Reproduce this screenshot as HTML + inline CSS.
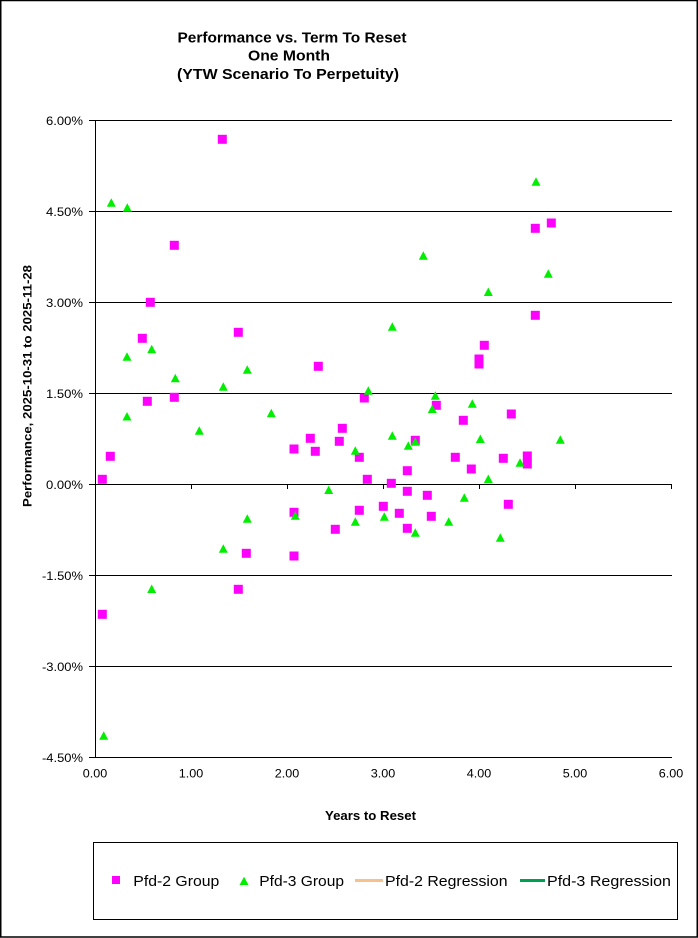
<!DOCTYPE html>
<html>
<head>
<meta charset="utf-8">
<style>
html,body{margin:0;padding:0;background:#fff;}
svg{display:block;}
text{font-family:"Liberation Sans",Arial,sans-serif;fill:#000;}
</style>
</head>
<body>
<svg width="698" height="938" viewBox="0 0 698 938" xmlns="http://www.w3.org/2000/svg">
<rect x="0" y="0" width="698" height="938" fill="#fff"/>
<rect x="0.75" y="0.5" width="696.5" height="936.5" fill="none" stroke="#000" stroke-width="1.5"/>

<text x="292" y="42.5" font-size="15" font-weight="bold" text-anchor="middle" textLength="229" lengthAdjust="spacingAndGlyphs">Performance vs. Term To Reset</text>
<text x="289" y="60.5" font-size="15" font-weight="bold" text-anchor="middle" textLength="82" lengthAdjust="spacingAndGlyphs">One Month</text>
<text x="288" y="79" font-size="15" font-weight="bold" text-anchor="middle" textLength="222" lengthAdjust="spacingAndGlyphs">(YTW Scenario To Perpetuity)</text>

<g stroke="#000" stroke-width="1">
<line x1="89" y1="120.5" x2="672" y2="120.5"/>
<line x1="89" y1="211.5" x2="672" y2="211.5"/>
<line x1="89" y1="302.5" x2="672" y2="302.5"/>
<line x1="89" y1="393.5" x2="672" y2="393.5"/>
<line x1="89" y1="484.5" x2="672" y2="484.5"/>
<line x1="89" y1="575.5" x2="672" y2="575.5"/>
<line x1="89" y1="666.5" x2="672" y2="666.5"/>
<line x1="89" y1="757.5" x2="672" y2="757.5"/>
<line x1="95.5" y1="120" x2="95.5" y2="758"/>
<line x1="95.5" y1="484.5" x2="95.5" y2="489"/>
<line x1="191.5" y1="484.5" x2="191.5" y2="489"/>
<line x1="287.5" y1="484.5" x2="287.5" y2="489"/>
<line x1="383.5" y1="484.5" x2="383.5" y2="489"/>
<line x1="479.5" y1="484.5" x2="479.5" y2="489"/>
<line x1="575.5" y1="484.5" x2="575.5" y2="489"/>
<line x1="671.5" y1="484.5" x2="671.5" y2="489"/>
</g>

<g font-size="12" text-anchor="end">
<text x="83" y="125" textLength="37" lengthAdjust="spacingAndGlyphs">6.00%</text>
<text x="83" y="216" textLength="37" lengthAdjust="spacingAndGlyphs">4.50%</text>
<text x="83" y="307" textLength="37" lengthAdjust="spacingAndGlyphs">3.00%</text>
<text x="83" y="398" textLength="37" lengthAdjust="spacingAndGlyphs">1.50%</text>
<text x="83" y="489" textLength="37" lengthAdjust="spacingAndGlyphs">0.00%</text>
<text x="83" y="580" textLength="41" lengthAdjust="spacingAndGlyphs">-1.50%</text>
<text x="83" y="671" textLength="41" lengthAdjust="spacingAndGlyphs">-3.00%</text>
<text x="83" y="762" textLength="41" lengthAdjust="spacingAndGlyphs">-4.50%</text>
</g>

<g font-size="12" text-anchor="middle">
<text x="95" y="777.5" textLength="24.5" lengthAdjust="spacingAndGlyphs">0.00</text>
<text x="191" y="777.5" textLength="24.5" lengthAdjust="spacingAndGlyphs">1.00</text>
<text x="287" y="777.5" textLength="24.5" lengthAdjust="spacingAndGlyphs">2.00</text>
<text x="383" y="777.5" textLength="24.5" lengthAdjust="spacingAndGlyphs">3.00</text>
<text x="479" y="777.5" textLength="24.5" lengthAdjust="spacingAndGlyphs">4.00</text>
<text x="575" y="777.5" textLength="24.5" lengthAdjust="spacingAndGlyphs">5.00</text>
<text x="671" y="777.5" textLength="24.5" lengthAdjust="spacingAndGlyphs">6.00</text>
</g>

<text x="370.5" y="820" font-size="12.5" font-weight="bold" text-anchor="middle" textLength="91" lengthAdjust="spacingAndGlyphs">Years to Reset</text>
<text transform="translate(31.5,386) rotate(-90)" x="0" y="0" font-size="12" font-weight="bold" text-anchor="middle" textLength="242" lengthAdjust="spacingAndGlyphs">Performance, 2025-10-31  to 2025-11-28</text>

<g fill="#ff00ff">
<rect x="217.8" y="134.8" width="9" height="9"/>
<rect x="169.8" y="240.8" width="9" height="9"/>
<rect x="145.8" y="297.8" width="9" height="9"/>
<rect x="233.8" y="327.8" width="9" height="9"/>
<rect x="137.8" y="333.8" width="9" height="9"/>
<rect x="142.8" y="396.8" width="9" height="9"/>
<rect x="169.8" y="392.8" width="9" height="9"/>
<rect x="105.8" y="451.8" width="9" height="9"/>
<rect x="97.8" y="474.8" width="9" height="9"/>
<rect x="97.8" y="609.8" width="9" height="9"/>
<rect x="241.8" y="548.8" width="9" height="9"/>
<rect x="233.8" y="584.8" width="9" height="9"/>
<rect x="313.8" y="361.8" width="9" height="9"/>
<rect x="359.8" y="393.5" width="9" height="9"/>
<rect x="431.8" y="400.8" width="9" height="9"/>
<rect x="289.5" y="444.5" width="9" height="9"/>
<rect x="305.8" y="433.8" width="9" height="9"/>
<rect x="310.8" y="446.8" width="9" height="9"/>
<rect x="337.8" y="423.8" width="9" height="9"/>
<rect x="334.8" y="436.8" width="9" height="9"/>
<rect x="354.8" y="452.8" width="9" height="9"/>
<rect x="362.8" y="474.8" width="9" height="9"/>
<rect x="386.8" y="478.8" width="9" height="9"/>
<rect x="402.8" y="466.2" width="9" height="9"/>
<rect x="410.8" y="435.8" width="9" height="9"/>
<rect x="458.8" y="415.8" width="9" height="9"/>
<rect x="450.8" y="452.8" width="9" height="9"/>
<rect x="466.8" y="464.5" width="9" height="9"/>
<rect x="402.8" y="486.8" width="9" height="9"/>
<rect x="422.8" y="490.8" width="9" height="9"/>
<rect x="289.5" y="507.8" width="9" height="9"/>
<rect x="354.8" y="505.8" width="9" height="9"/>
<rect x="378.8" y="501.8" width="9" height="9"/>
<rect x="394.8" y="508.8" width="9" height="9"/>
<rect x="426.8" y="511.8" width="9" height="9"/>
<rect x="330.8" y="524.8" width="9" height="9"/>
<rect x="402.8" y="523.8" width="9" height="9"/>
<rect x="289.5" y="551.5" width="9" height="9"/>
<rect x="530.8" y="223.8" width="9" height="9"/>
<rect x="546.8" y="218.5" width="9" height="9"/>
<rect x="530.8" y="310.8" width="9" height="9"/>
<rect x="479.8" y="340.8" width="9" height="9"/>
<rect x="474.5" y="354.5" width="9" height="9"/>
<rect x="474.5" y="359.5" width="9" height="9"/>
<rect x="506.8" y="409.5" width="9" height="9"/>
<rect x="498.8" y="453.8" width="9" height="9"/>
<rect x="522.8" y="451.5" width="9" height="9"/>
<rect x="522.8" y="459.5" width="9" height="9"/>
<rect x="503.8" y="499.8" width="9" height="9"/>
</g>

<g fill="#00ee00">
<polygon points="111.3,198.2 115.8,206.7 106.8,206.7"/>
<polygon points="127.3,203.2 131.8,211.7 122.8,211.7"/>
<polygon points="151.7,344.8 156.2,353.3 147.2,353.3"/>
<polygon points="127,352.2 131.5,360.7 122.5,360.7"/>
<polygon points="247.3,365.2 251.8,373.7 242.8,373.7"/>
<polygon points="175.3,373.8 179.8,382.3 170.8,382.3"/>
<polygon points="223.3,382.2 227.8,390.7 218.8,390.7"/>
<polygon points="127,412 131.5,420.5 122.5,420.5"/>
<polygon points="271.3,408.8 275.8,417.3 266.8,417.3"/>
<polygon points="199.3,426.2 203.8,434.7 194.8,434.7"/>
<polygon points="247.3,514.2 251.8,522.7 242.8,522.7"/>
<polygon points="223.3,544.2 227.8,552.7 218.8,552.7"/>
<polygon points="151.7,584.5 156.2,593 147.2,593"/>
<polygon points="103.7,731.2 108.2,739.7 99.2,739.7"/>
<polygon points="423.3,251.2 427.8,259.7 418.8,259.7"/>
<polygon points="392.3,322.2 396.8,330.7 387.8,330.7"/>
<polygon points="368.3,386.2 372.8,394.7 363.8,394.7"/>
<polygon points="435.3,391.2 439.8,399.7 430.8,399.7"/>
<polygon points="432.3,404.5 436.8,413 427.8,413"/>
<polygon points="472.3,399.2 476.8,407.7 467.8,407.7"/>
<polygon points="392.3,431.2 396.8,439.7 387.8,439.7"/>
<polygon points="408.3,441.2 412.8,449.7 403.8,449.7"/>
<polygon points="415.3,437.2 419.8,445.7 410.8,445.7"/>
<polygon points="355.3,446.2 359.8,454.7 350.8,454.7"/>
<polygon points="328.7,485.5 333.2,494 324.2,494"/>
<polygon points="464.3,493.2 468.8,501.7 459.8,501.7"/>
<polygon points="295.3,511.2 299.8,519.7 290.8,519.7"/>
<polygon points="355.3,517.2 359.8,525.7 350.8,525.7"/>
<polygon points="384.3,512.2 388.8,520.7 379.8,520.7"/>
<polygon points="448.7,517.2 453.2,525.7 444.2,525.7"/>
<polygon points="415.3,528.2 419.8,536.7 410.8,536.7"/>
<polygon points="536,177.2 540.5,185.7 531.5,185.7"/>
<polygon points="548.3,269.2 552.8,277.7 543.8,277.7"/>
<polygon points="488.3,287.5 492.8,296 483.8,296"/>
<polygon points="480.3,434.5 484.8,443 475.8,443"/>
<polygon points="560.3,435.2 564.8,443.7 555.8,443.7"/>
<polygon points="520,458.2 524.5,466.7 515.5,466.7"/>
<polygon points="488.3,474.5 492.8,483 483.8,483"/>
<polygon points="500.3,533.2 504.8,541.7 495.8,541.7"/>
</g>

<rect x="93.5" y="842.5" width="584" height="77" fill="none" stroke="#000" stroke-width="1"/>
<rect x="112" y="876" width="8" height="8" fill="#ff00ff"/>
<polygon points="244,876.8 248.5,885 239.5,885" fill="#00ee00"/>
<line x1="355" y1="880.5" x2="383" y2="880.5" stroke="#f7c18f" stroke-width="3"/>
<line x1="520" y1="880.5" x2="545" y2="880.5" stroke="#00a050" stroke-width="3"/>
<g font-size="15">
<text x="133.3" y="886" textLength="86" lengthAdjust="spacingAndGlyphs">Pfd-2 Group</text>
<text x="259.3" y="886" textLength="84.7" lengthAdjust="spacingAndGlyphs">Pfd-3 Group</text>
<text x="385" y="886" textLength="122.6" lengthAdjust="spacingAndGlyphs">Pfd-2 Regression</text>
<text x="547" y="886" textLength="124" lengthAdjust="spacingAndGlyphs">Pfd-3 Regression</text>
</g>
</svg>
</body>
</html>
